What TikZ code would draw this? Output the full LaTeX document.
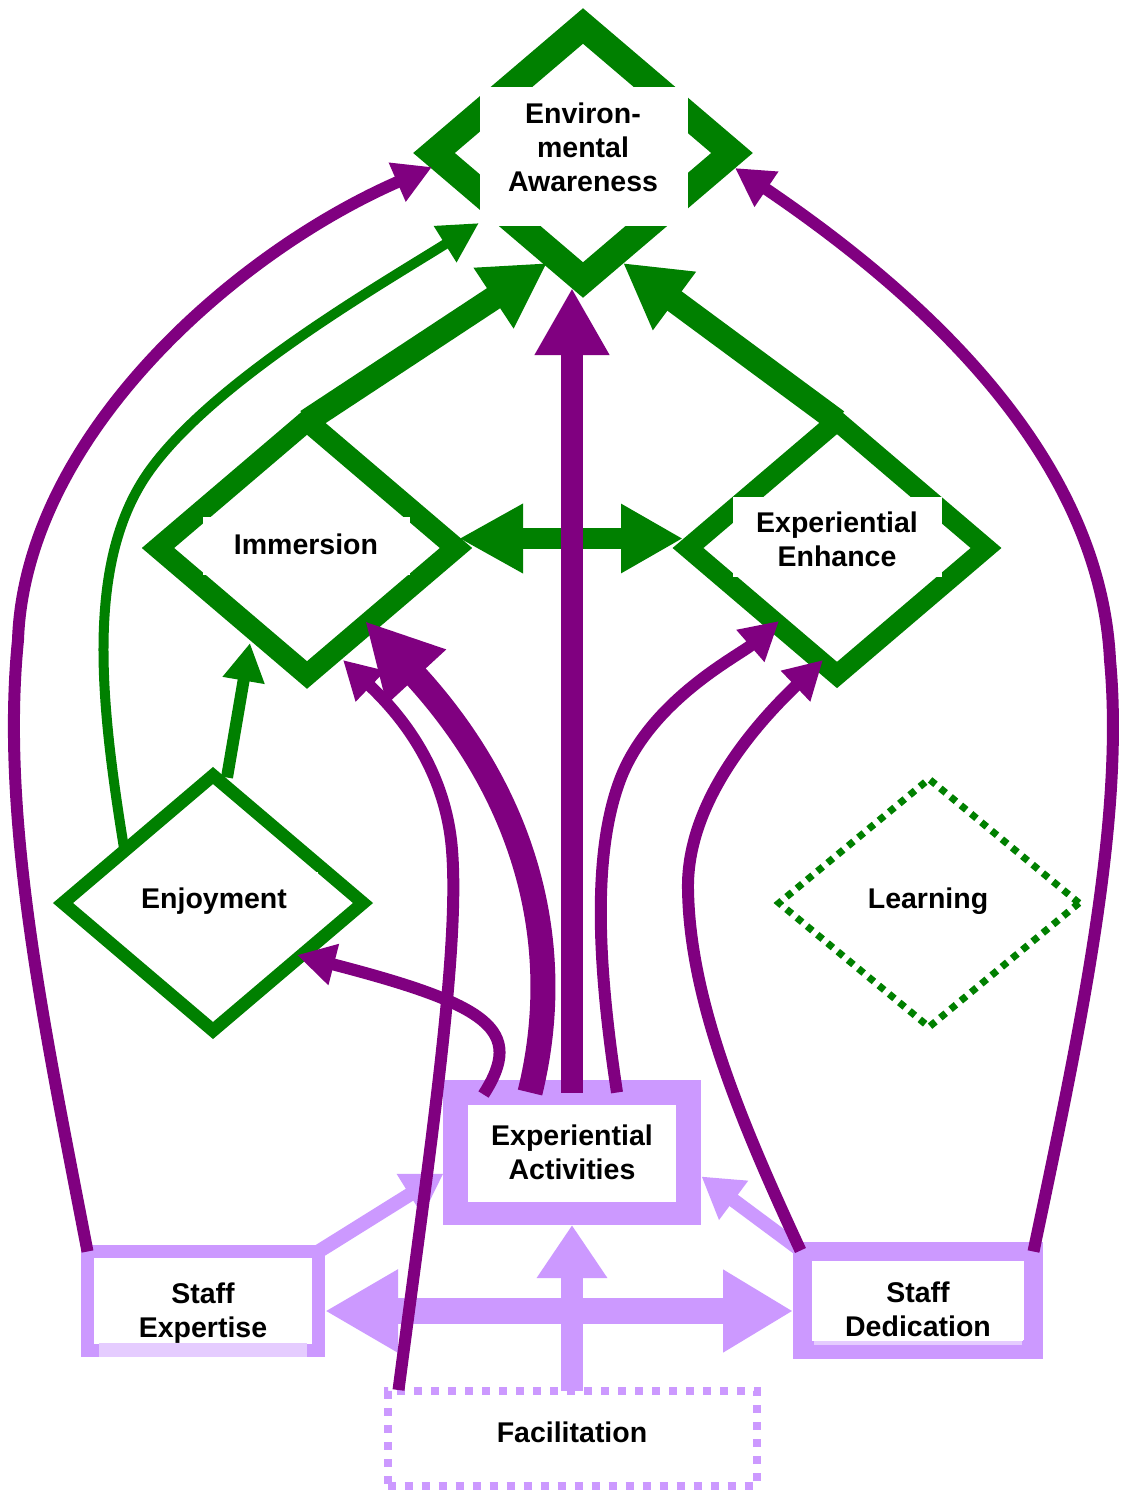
\documentclass[tikz,border=0pt]{standalone}
\usepackage{fontspec}
\setmainfont{Liberation Sans}
\usetikzlibrary{shapes.geometric,arrows.meta,calc}

\definecolor{dgreen}{HTML}{008000}
\definecolor{dpurple}{HTML}{800080}
\definecolor{lpurple}{HTML}{CC99FF}
\definecolor{lstrip}{HTML}{E5CCFF}

\tikzset{
  concept/.style={diamond, draw=dgreen, minimum width=298pt, minimum height=254pt,
    inner sep=0pt, outer sep=0pt, miter limit=10},
  factor/.style={rectangle, draw=lpurple, inner sep=0pt, outer sep=0pt},
  labelbox/.style={rectangle, fill=white, inner sep=0pt, outer sep=0pt},
  txt/.style={font=\fontsize{28.5}{34}\selectfont\bfseries, align=center, inner sep=0pt},
  gline/.style={draw=dgreen},
  pline/.style={draw=dpurple},
  lline/.style={draw=lpurple},
  thintip/.tip={Triangle[length=38pt,width=40pt]},
}

\begin{document}
\begin{tikzpicture}[x=1pt,y=-1pt]
\fill[white] (0,0) rectangle (1126,1493);
\useasboundingbox (0,0) rectangle (1126,1493);

% concept diamonds
\node[concept, line width=27pt] (env) at (583,153) {};
\node[concept, line width=21pt] (imm) at (307,548) {};
\node[concept, line width=20pt] (exe) at (837,548) {};
\node[concept, line width=13pt, minimum width=300pt, minimum height=255pt] (enj) at (213,903) {};
\node[concept, line width=7pt, dash pattern=on 7pt off 6.3pt, minimum width=300pt,
      minimum height=248pt] (lrn) at (929,903) {};

% factor boxes
\node[factor, line width=25pt, minimum width=233pt, minimum height=120pt] (act) at (572,1152.5) {};
\node[factor, line width=13pt, minimum width=231pt, minimum height=99pt] (sexp) at (203,1301) {};
\node[factor, line width=19pt, minimum width=231pt, minimum height=98pt] (sded) at (918,1300.5) {};
\node[factor, line width=8pt, dash pattern=on 8pt off 9pt, minimum width=369pt,
      minimum height=95pt] (fac) at (572,1438.5) {};

% label backgrounds
\node[labelbox, minimum width=208pt, minimum height=139pt] (envbox) at (584,156.5) {};
\node[labelbox, minimum width=207pt, minimum height=58pt] (immbox) at (306.5,546) {};
\node[labelbox, minimum width=209pt, minimum height=80pt] (exebox) at (837.5,537) {};
\node[labelbox, minimum width=207pt, minimum height=58pt] (enjbox) at (214.5,901) {};
\node[labelbox, minimum width=208pt, minimum height=95pt] (actbox) at (572,1154.5) {};
\node[labelbox, minimum width=217pt, minimum height=85pt] (sexpbox) at (203.5,1300.5) {};
\node[labelbox, minimum width=211pt, minimum height=80pt] (sdedbox) at (917.5,1301) {};
\fill[lstrip] (99,1343) rectangle (307,1357);
\fill[lstrip] (814,1341) rectangle (1022,1345);

% label texts
\node[txt] (envtxt) at (583,147.3) {Environ-\\mental\\Awareness};
\node[txt, anchor=base] (immtxt) at (306,554) {Immersion};
\node[txt] (exetxt) at (837,539.3) {Experiential\\Enhance};
\node[txt, anchor=base] (enjtxt) at (214,908) {Enjoyment};
\node[txt, anchor=base] (lrntxt) at (928,908) {Learning};
\node[txt] (acttxt) at (572,1152.3) {Experiential\\Activities};
\node[txt] (sexptxt) at (203,1312.7) {Staff\\Expertise};
\node[txt] (sdedtxt) at (918,1309.3) {Staff\\Dedication};
\node[txt, anchor=base] (factxt) at (572,1442) {Facilitation};

% light purple links between the factors
\draw[lline, line width=14pt, -{Triangle[length=40pt,width=46pt]}]
  (sexp.north east) -- ($(act.west)+(-12,21)$);
\draw[lline, line width=14pt, -{Triangle[length=40pt,width=46pt]}]
  (sded.north west) -- ($(act.east)+(13,24)$);
\draw[lline, line width=26pt, {Triangle[length=73pt,width=78pt]}-{Triangle[length=70pt,width=78pt]}]
  ($(sexp.east)+(6.5,10)$) -- ($(sded.west)+(-9.5,10.5)$);
\draw[lline, line width=22pt, -{Triangle[length=53pt,width=67pt]}]
  (fac.north) -- ($(act.south)+(0,12.5)$);

% green links between the concepts
\draw[gline, line width=24pt, -{Triangle[length=64pt,width=68pt]}]
  (imm.north) -- ($(env.center)+(-36,110)$);
\draw[gline, line width=24pt, -{Triangle[length=64pt,width=68pt]}]
  (exe.north) -- ($(env.center)+(40,110)$);
\draw[gline, line width=10pt, -{Triangle[length=40pt,width=40pt]}]
  ($(enj.center)+(-89,-55)$) .. controls (100,700) and (85,560) .. (150,470)
  .. controls (215,380) and (380,285) .. ($(env.center)+(-104,70)$);
\draw[gline, line width=12pt, -thintip]
  ($(enj.north)+(14,2)$) -- ($(imm.center)+(-57,95)$);
\draw[gline, line width=21pt, {Triangle[length=64pt,width=65pt]}-{Triangle[length=62pt,width=65pt]}]
  ($(imm.center)+(152,-9.5)$) -- ($(exe.center)+(-154,-9.5)$);

% purple links from the factors
\draw[pline, line width=12pt, -thintip]
  (sexp.north west) .. controls (45,1030) and (0,820) .. (18,640)
  .. controls (25,440) and (230,255) .. ($(env.center)+(-151,14)$);
\draw[pline, line width=12pt, -thintip]
  (sded.north east) .. controls (1080,1030) and (1125,820) .. (1110,660)
  .. controls (1100,460) and (930,300) .. ($(env.center)+(152,15)$);
\draw[pline, line width=22pt, -{Triangle[length=67pt,width=70pt]}]
  (act.north) -- ($(env.center)+(-11,135)$);
\draw[pline, line width=12pt, -thintip]
  ($(act.north west)+(28,2)$) .. controls (525,1030) and (490,1005) .. ($(enj.center)+(84,52)$);
\draw[pline, line width=25pt, -{Triangle[length=76pt,width=75pt]}]
  ($(act.north)+(-42,0)$) .. controls (565,950) and (530,800) .. ($(imm.center)+(58,73)$);
\draw[pline, line width=12pt, -thintip]
  ($(act.north)+(45,0)$) .. controls (600,980) and (590,860) .. (620,780)
  .. controls (650,700) and (740,655) .. ($(exe.center)+(-58,73)$);
\draw[pline, line width=12pt, -thintip]
  ($(fac.north west)+(11,-1)$) .. controls (430,1150) and (460,950) .. (452,850)
  .. controls (445,760) and (390,705) .. ($(imm.center)+(36,112)$);
\draw[pline, line width=12pt, -thintip]
  ($(sded.north west)+(-2,-1)$) .. controls (740,1120) and (690,1000) .. (688,890)
  .. controls (686,800) and (760,720) .. ($(exe.center)+(-14,112)$);
\end{tikzpicture}
\end{document}
